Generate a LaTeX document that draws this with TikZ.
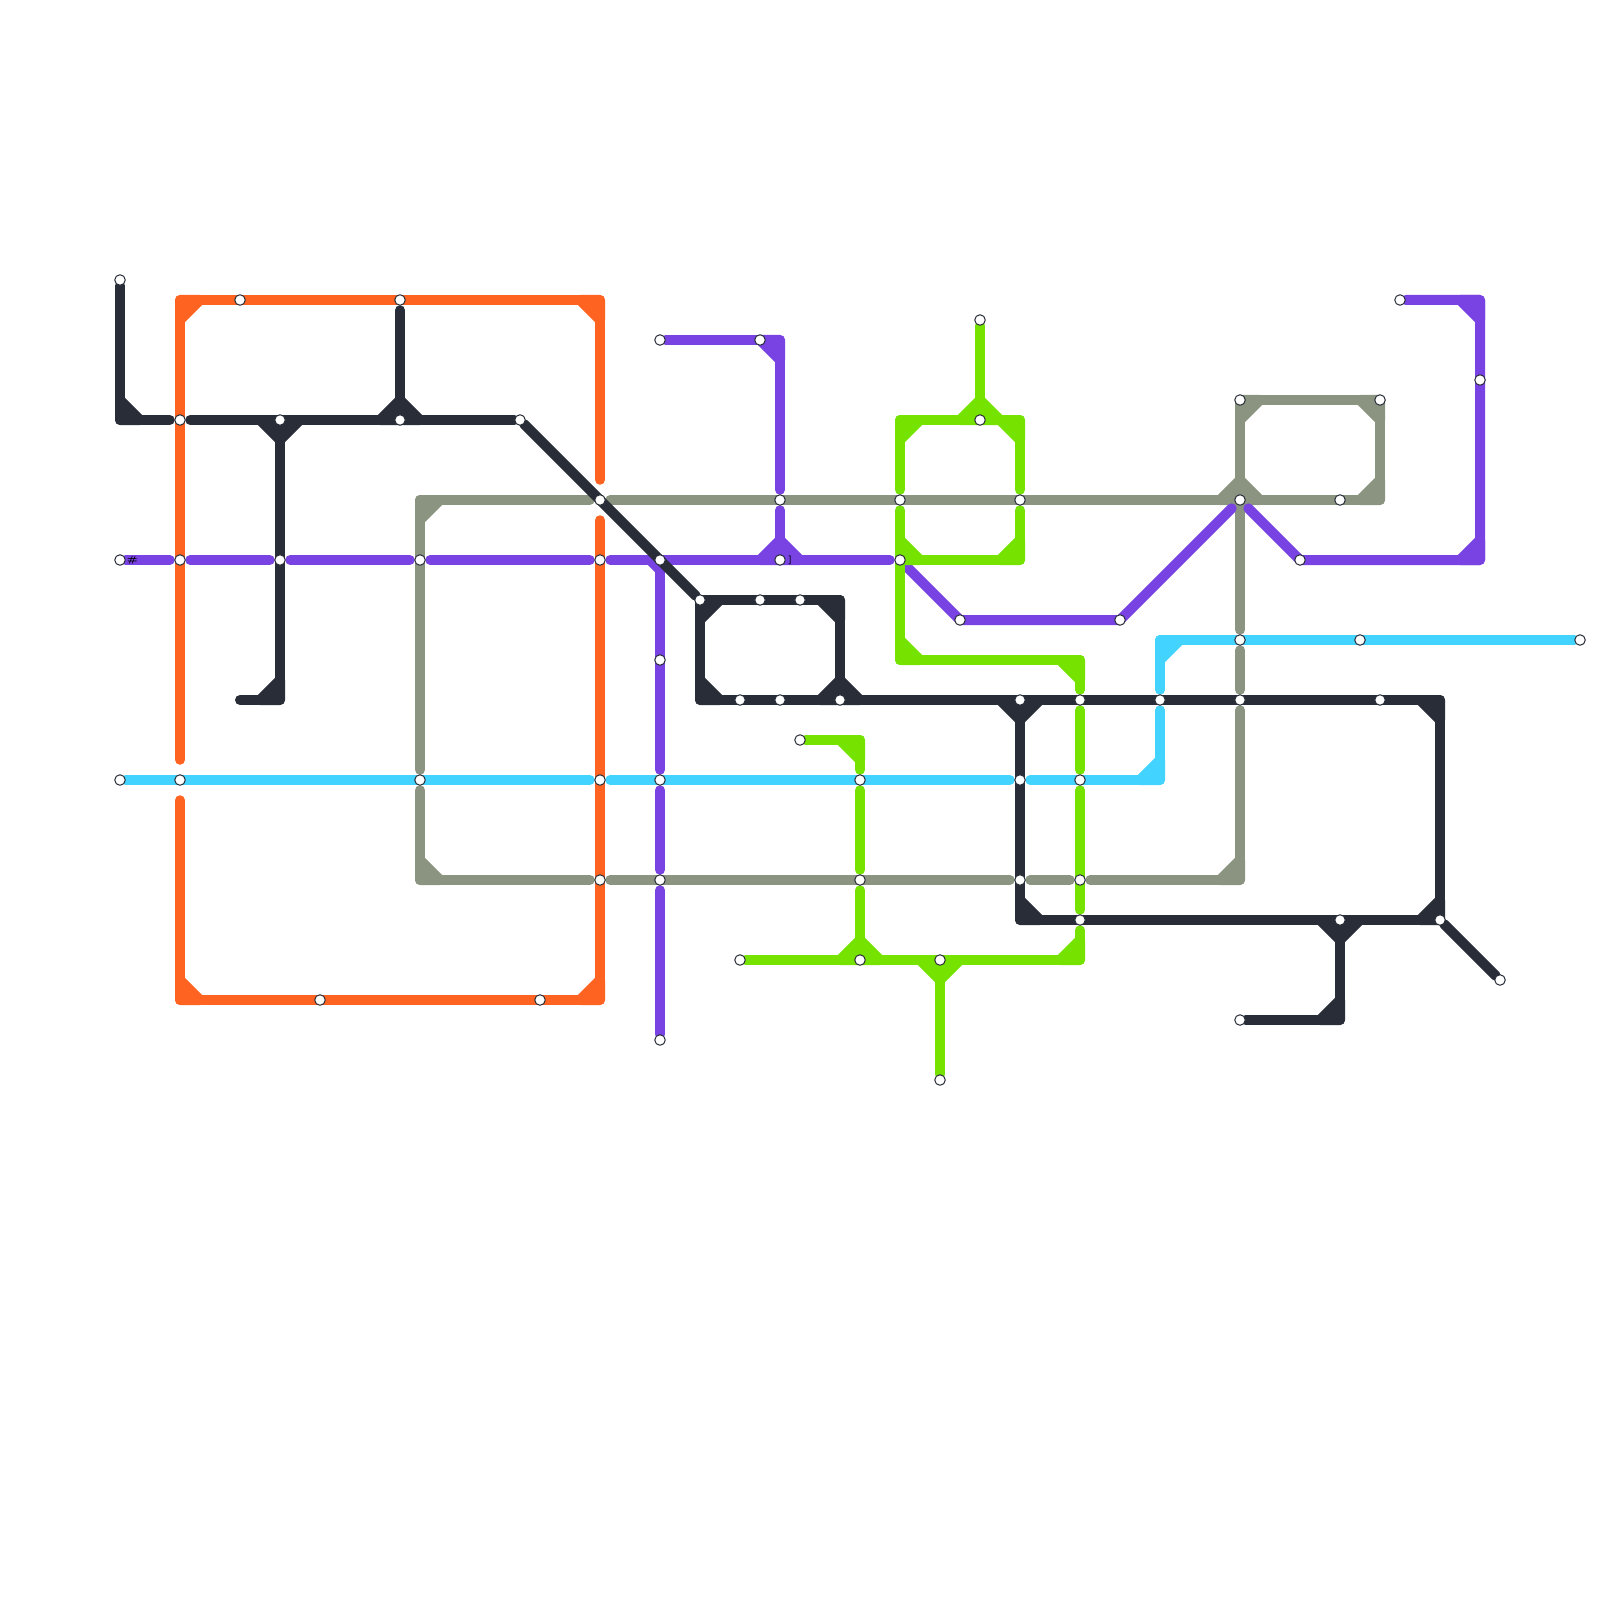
\documentclass[tikz,border=0pt]{standalone}
\usepackage{xcolor}
\usepackage{tikz}
\usetikzlibrary{positioning,backgrounds}
\definecolor{linedark}{HTML}{282D38}
\definecolor{lineorange}{HTML}{FF6322}
\definecolor{linepurple}{HTML}{7843E2}
\definecolor{linecyan}{HTML}{43D3FF}
\definecolor{linegreen}{HTML}{75E200}
\definecolor{linegrey}{HTML}{8A9480}
\newcommand{\fillet}[4]{\filldraw[#1] (#2) -- +(#3) -- +(#4) -- cycle;}

\begin{document}
\begin{tikzpicture}[
  x=2mm, y=-2mm,
  stop/.style={draw=linedark, line width=.1mm, fill=white, circle, minimum size=1.05mm, inner sep=0pt},
  tag/.style={font=\fontsize{2.5pt}{2.5pt}\bfseries\selectfont, inner sep=0pt, text=black},
  route/.style={line width=1mm, line cap=round, line join=round},
  dark/.style={route, color=linedark},
  orange/.style={route, color=lineorange},
  purple/.style={route, color=linepurple},
  cyan/.style={route, color=linecyan},
  green/.style={route, color=linegreen},
  grey/.style={route, color=linegrey},
  gapin/.style={shorten <=.45mm},
  gapout/.style={shorten >=.45mm},
  gapboth/.style={shorten <=.45mm, shorten >=.45mm},
  widegap/.style={shorten <=1.45mm, shorten >=1.45mm}
]
\useasboundingbox (0,0) rectangle (80,80);
% stations
\node[stop] (s6x14) at (6,14) {};
\node[stop] (s6x28) at (6,28) {};
\node[stop] (s6x39) at (6,39) {};
\node[stop] (s9x21) at (9,21) {};
\node[stop] (s9x28) at (9,28) {};
\node[stop] (s9x39) at (9,39) {};
\node[stop] (s12x15) at (12,15) {};
\node[stop] (s14x21) at (14,21) {};
\node[stop] (s14x28) at (14,28) {};
\node[stop] (s16x50) at (16,50) {};
\node[stop] (s20x15) at (20,15) {};
\node[stop] (s20x21) at (20,21) {};
\node[stop] (s21x28) at (21,28) {};
\node[stop] (s21x39) at (21,39) {};
\node[stop] (s26x21) at (26,21) {};
\node[stop] (s27x50) at (27,50) {};
\node[stop] (s30x25) at (30,25) {};
\node[stop] (s30x28) at (30,28) {};
\node[stop] (s30x39) at (30,39) {};
\node[stop] (s30x44) at (30,44) {};
\node[stop] (s33x17) at (33,17) {};
\node[stop] (s33x28) at (33,28) {};
\node[stop] (s33x33) at (33,33) {};
\node[stop] (s33x39) at (33,39) {};
\node[stop] (s33x44) at (33,44) {};
\node[stop] (s33x52) at (33,52) {};
\node[stop] (s35x30) at (35,30) {};
\node[stop] (s37x35) at (37,35) {};
\node[stop] (s37x48) at (37,48) {};
\node[stop] (s38x17) at (38,17) {};
\node[stop] (s38x30) at (38,30) {};
\node[stop] (s39x25) at (39,25) {};
\node[stop] (s39x28) at (39,28) {};
\node[stop] (s39x35) at (39,35) {};
\node[stop] (s40x30) at (40,30) {};
\node[stop] (s40x37) at (40,37) {};
\node[stop] (s42x35) at (42,35) {};
\node[stop] (s43x39) at (43,39) {};
\node[stop] (s43x44) at (43,44) {};
\node[stop] (s43x48) at (43,48) {};
\node[stop] (s45x25) at (45,25) {};
\node[stop] (s45x28) at (45,28) {};
\node[stop] (s47x48) at (47,48) {};
\node[stop] (s47x54) at (47,54) {};
\node[stop] (s48x31) at (48,31) {};
\node[stop] (s49x16) at (49,16) {};
\node[stop] (s49x21) at (49,21) {};
\node[stop] (s51x25) at (51,25) {};
\node[stop] (s51x35) at (51,35) {};
\node[stop] (s51x39) at (51,39) {};
\node[stop] (s51x44) at (51,44) {};
\node[stop] (s54x35) at (54,35) {};
\node[stop] (s54x39) at (54,39) {};
\node[stop] (s54x44) at (54,44) {};
\node[stop] (s54x46) at (54,46) {};
\node[stop] (s56x31) at (56,31) {};
\node[stop] (s58x35) at (58,35) {};
\node[stop] (s62x20) at (62,20) {};
\node[stop] (s62x25) at (62,25) {};
\node[stop] (s62x32) at (62,32) {};
\node[stop] (s62x35) at (62,35) {};
\node[stop] (s62x51) at (62,51) {};
\node[stop] (s65x28) at (65,28) {};
\node[stop] (s67x25) at (67,25) {};
\node[stop] (s67x46) at (67,46) {};
\node[stop] (s68x32) at (68,32) {};
\node[stop] (s69x20) at (69,20) {};
\node[stop] (s69x35) at (69,35) {};
\node[stop] (s70x15) at (70,15) {};
\node[stop] (s72x46) at (72,46) {};
\node[stop] (s74x19) at (74,19) {};
\node[stop] (s75x49) at (75,49) {};
\node[stop] (s79x32) at (79,32) {};
\node[tag, right=.05mm of s6x28] (hash) {\#};
\node[tag, right=.2mm of s39x28] (bracket) {]};
% bends
\coordinate (c6x21) at (6,21);
\coordinate (c9x15) at (9,15);
\coordinate (c9x50) at (9,50);
\coordinate (c12x35) at (12,35);
\coordinate (c14x35) at (14,35);
\coordinate (c21x25) at (21,25);
\coordinate (c21x44) at (21,44);
\coordinate (c30x15) at (30,15);
\coordinate (c30x50) at (30,50);
\coordinate (c35x35) at (35,35);
\coordinate (c39x17) at (39,17);
\coordinate (c42x30) at (42,30);
\coordinate (c43x37) at (43,37);
\coordinate (c45x21) at (45,21);
\coordinate (c45x33) at (45,33);
\coordinate (c51x21) at (51,21);
\coordinate (c51x28) at (51,28);
\coordinate (c51x46) at (51,46);
\coordinate (c54x33) at (54,33);
\coordinate (c54x48) at (54,48);
\coordinate (c58x32) at (58,32);
\coordinate (c58x39) at (58,39);
\coordinate (c62x44) at (62,44);
\coordinate (c67x51) at (67,51);
\coordinate (c69x25) at (69,25);
\coordinate (c72x35) at (72,35);
\coordinate (c74x15) at (74,15);
\coordinate (c74x28) at (74,28);
\begin{scope}[on background layer]
% grey
\draw[grey, gapboth] (s30x25) -- (c21x25) -- (s21x39);
\draw[grey, gapboth] (s21x39) -- (c21x44) -- (s30x44);
\draw[grey, gapboth] (s30x44) -- (s51x44);
\draw[grey, gapboth] (s51x44) -- (s54x44);
\draw[grey, gapboth] (s54x44) -- (c62x44) -- (s62x35);
\draw[grey, gapboth] (s62x35) -- (s62x32);
\draw[grey, gapout] (s62x20.center) -- (s69x20.center) -- (c69x25) -- (s30x25);
\draw[grey, gapout] (s62x20.center) -- (s62x32);
\fillet{grey}{21,25}{0,1}{1,0}
\fillet{grey}{21,44}{0,-1}{1,0}
\fillet{grey}{62,44}{0,-1}{-1,0}
\fillet{grey}{62,20}{0,1}{1,0}
\fillet{grey}{69,20}{0,1}{-1,0}
\fillet{grey}{69,25}{0,-1}{-1,0}
\fillet{grey}{62,25}{0,-1}{-1,0}
\fillet{grey}{62,25}{0,-1}{1,0}
% orange
\draw[orange, widegap] (s9x39) -- (c9x15) -- (c30x15) -- (s30x25);
\draw[orange, widegap] (s30x25) -- (c30x50) -- (c9x50) -- (s9x39);
\fillet{orange}{9,15}{0,1}{1,0}
\fillet{orange}{30,15}{0,1}{-1,0}
\fillet{orange}{30,50}{0,-1}{-1,0}
\fillet{orange}{9,50}{0,-1}{1,0}
% purple
\draw[purple, gapout] (s6x28) -- (s9x28);
\draw[purple, gapboth] (s9x28) -- (s14x28);
\draw[purple, gapboth] (s14x28) -- (s21x28);
\draw[purple, gapboth] (s21x28) -- (s30x28);
\draw[purple, gapboth] (s30x28) -- (s45x28);
\draw[purple, gapout] (s33x28) -- (s33x39);
\draw[purple, gapboth] (s33x39) -- (s33x44);
\draw[purple, gapin] (s33x44) -- (s33x52);
\draw[purple, gapout] (s33x17) -- (c39x17) -- (s39x25);
\draw[purple, gapin] (s39x25) -- (s39x28);
\draw[purple, shorten <=.6mm] (s45x28) -- (s48x31.center);
\draw[purple, shorten >=.6mm] (s48x31.center) -- (s56x31.center) -- (s62x25);
\draw[purple, shorten <=.6mm] (s62x25) -- (s65x28.center) -- (c74x28) -- (c74x15) -- (s70x15);
\fillet{purple}{39,17}{0,1}{-1,0}
\fillet{purple}{39,28}{0,-1}{-1,0}
\fillet{purple}{39,28}{0,-1}{1,0}
\fillet{purple}{33,28}{0,.5}{-.5,0}
\fillet{purple}{33,28}{0,.5}{.5,0}
\fillet{purple}{74,28}{0,-1}{-1,0}
\fillet{purple}{74,15}{0,1}{-1,0}
% cyan
\draw[cyan, gapout] (s6x39) -- (s30x39);
\draw[cyan, gapboth] (s30x39) -- (s51x39);
\draw[cyan, gapboth] (s51x39) -- (c58x39) -- (s58x35);
\draw[cyan, gapin] (s58x35) -- (c58x32) -- (s79x32);
\fillet{cyan}{58,39}{0,-1}{-1,0}
\fillet{cyan}{58,32}{0,1}{1,0}
% green
\draw[green] (s49x16) -- (s49x21);
\draw[green, gapboth] (s45x25) -- (c45x21) -- (c51x21) -- (s51x25);
\draw[green, gapin] (s51x25) -- (c51x28) -- (s45x28.center);
\draw[green, gapboth] (s45x25) -- (c45x33) -- (c54x33) -- (s54x35);
\draw[green, gapboth] (s54x35) -- (s54x39);
\draw[green, gapboth] (s54x39) -- (s54x46);
\draw[green, gapin] (s54x46) -- (c54x48) -- (s37x48);
\draw[green, gapout] (s40x37) -- (c43x37) -- (s43x39);
\draw[green, gapboth] (s43x39) -- (s43x44);
\draw[green, gapin] (s43x44) -- (s43x48);
\draw[green] (s47x48) -- (s47x54);
\fillet{green}{45,21}{0,1}{1,0}
\fillet{green}{51,21}{0,1}{-1,0}
\fillet{green}{49,21}{0,-1}{-1,0}
\fillet{green}{49,21}{0,-1}{1,0}
\fillet{green}{51,28}{0,-1}{-1,0}
\fillet{green}{45,28}{0,-1}{1,0}
\fillet{green}{45,33}{0,-1}{1,0}
\fillet{green}{54,33}{0,1}{-1,0}
\fillet{green}{54,48}{0,-1}{-1,0}
\fillet{green}{43,37}{0,1}{-1,0}
\fillet{green}{43,48}{0,-1}{-1,0}
\fillet{green}{43,48}{0,-1}{1,0}
\fillet{green}{47,48}{0,1}{-1,0}
\fillet{green}{47,48}{0,1}{1,0}
% dark
\draw[dark, gapout] (s6x14) -- (c6x21) -- (s9x21);
\draw[dark, gapin] (s9x21) -- (s26x21);
\draw[dark] (s26x21) -- (s35x30);
\draw[dark] (s35x30.center) -- (c42x30) -- (s42x35.center);
\draw[dark] (s35x30.center) -- (c35x35) -- (c72x35) -- (s72x46.center) -- (c51x46) -- (s51x35.center);
\draw[dark] (s72x46) -- (s75x49);
\draw[dark] (s14x21) -- (c14x35) -- (c12x35);
\draw[dark, gapin] (s20x15) -- (s20x21);
\draw[dark] (s67x46) -- (c67x51) -- (s62x51);
\fillet{dark}{6,21}{0,-1}{1,0}
\fillet{dark}{14,21}{0,1}{-1,0}
\fillet{dark}{14,21}{0,1}{1,0}
\fillet{dark}{14,35}{0,-1}{-1,0}
\fillet{dark}{20,21}{0,-1}{-1,0}
\fillet{dark}{20,21}{0,-1}{1,0}
\fillet{dark}{35,30}{0,1}{1,0}
\fillet{dark}{42,30}{0,1}{-1,0}
\fillet{dark}{35,35}{0,-1}{1,0}
\fillet{dark}{42,35}{0,-1}{-1,0}
\fillet{dark}{42,35}{0,-1}{1,0}
\fillet{dark}{51,35}{0,1}{-1,0}
\fillet{dark}{51,35}{0,1}{1,0}
\fillet{dark}{51,46}{0,-1}{1,0}
\fillet{dark}{72,35}{0,1}{-1,0}
\fillet{dark}{72,46}{0,-1}{-1,0}
\fillet{dark}{67,46}{0,1}{-1,0}
\fillet{dark}{67,46}{0,1}{1,0}
\fillet{dark}{67,51}{0,-1}{-1,0}
\end{scope}
\end{tikzpicture}
\end{document}
